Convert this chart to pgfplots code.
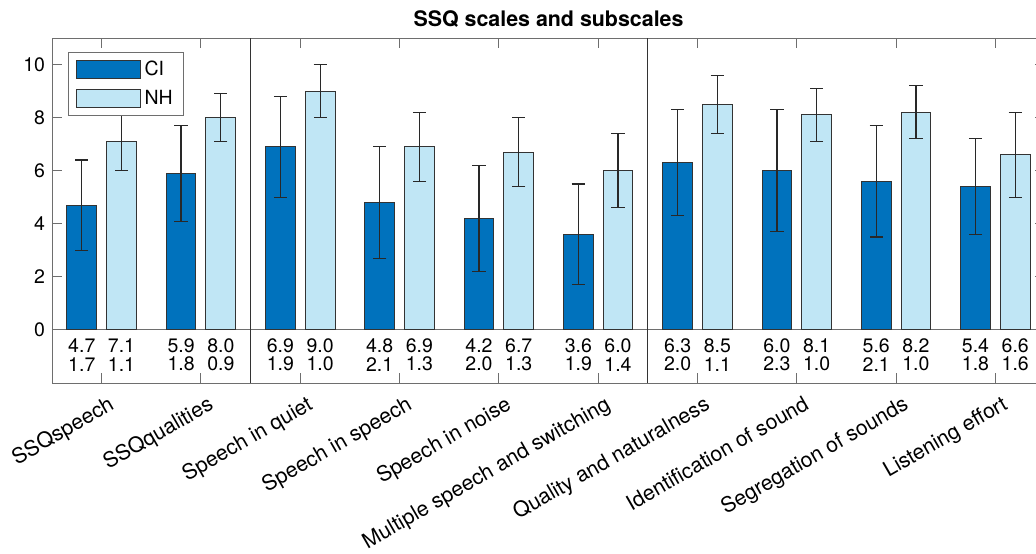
\documentclass[border=0pt]{standalone}
\usepackage{pgfplots}
\pgfplotsset{compat=1.18}
\usepackage{pgfplotstable}
\usepackage{fontspec}
\setmainfont{TeX Gyre Heros}
\definecolor{ciblue}{RGB}{0,114,189}
\definecolor{nhblue}{RGB}{192,230,245}
\definecolor{axgray}{RGB}{110,110,110}
\definecolor{errc}{RGB}{40,40,40}
\pgfplotstableread{
x ci cisd nh nhsd
0 4.7 1.7 7.1 1.1
1 5.9 1.8 8.0 0.9
2 6.9 1.9 9.0 1.0
3 4.8 2.1 6.9 1.3
4 4.2 2.0 6.7 1.3
5 3.6 1.9 6.0 1.4
6 6.3 2.0 8.5 1.1
7 6.0 2.3 8.1 1.0
8 5.6 2.1 8.2 1.0
9 5.4 1.8 6.6 1.6
}\ssq
\begin{document}
\begin{tikzpicture}[font=\fontsize{9.75}{11.5}\selectfont]
\begin{axis}[
  scale only axis, width=496.5pt, height=172.5pt,
  xmin=-0.5, xmax=9.5, ymin=-2, ymax=11,
  xtick={0,...,9},
  xticklabels={SSQspeech, SSQqualities, Speech in quiet, Speech in speech, Speech in noise, Multiple speech and switching, Quality and naturalness, Identification of sound, Segregation of sounds, Listening effort},
  ytick={0,2,...,10},
  tick align=inside, major tick length=5pt,
  axis line style={axgray, line width=0.5pt},
  tick style={axgray, line width=0.5pt},
  xticklabel style={rotate=30, anchor=north east, yshift=-3pt, xshift=3pt, font=\fontsize{10.6}{12}\selectfont},
  /pgf/number format/assume math mode=true,
  title={SSQ scales and subscales},
  title style={font=\fontsize{10.7}{12}\selectfont\bfseries, yshift=-4pt},
  legend style={at={(0,1)}, anchor=north west, xshift=8pt, yshift=-7pt, draw=axgray, line width=0.5pt, inner xsep=3.5pt, inner ysep=2pt, row sep=2pt, font=\fontsize{9.75}{11.5}\selectfont},
  legend cell align=left,
]
\addplot[axgray, line width=0.5pt, forget plot] coordinates {(-0.5,0) (9.5,0)};
\addplot[black!80, line width=0.5pt, forget plot] coordinates {(1.5,-2) (1.5,11)};
\addplot[black!80, line width=0.5pt, forget plot] coordinates {(5.5,-2) (5.5,11)};
\addplot[ybar, bar width=0.3, bar shift=0pt, fill=ciblue, draw=black!80, line width=0.5pt,
  legend image code/.code={\draw[fill=ciblue, draw=black!80, line width=0.5pt] (0pt,-4.5pt) rectangle (32pt,4.5pt);},
  error bars/.cd, y dir=both, y explicit,
  error bar style={errc, line width=0.6pt},
  error mark options={rotate=90, mark size=3.3pt, errc, line width=0.6pt}]
  table[x expr=\thisrow{x}-0.2, y=ci, y error=cisd] {\ssq};
\addlegendentry{CI}
\addplot[ybar, bar width=0.3, bar shift=0pt, fill=nhblue, draw=black!80, line width=0.5pt,
  legend image code/.code={\draw[fill=nhblue, draw=black!80, line width=0.5pt] (0pt,-4.5pt) rectangle (32pt,4.5pt);},
  error bars/.cd, y dir=both, y explicit,
  error bar style={errc, line width=0.6pt},
  error mark options={rotate=90, mark size=3.3pt, errc, line width=0.6pt}]
  table[x expr=\thisrow{x}+0.2, y=nh, y error=nhsd] {\ssq};
\addlegendentry{NH}
\addplot[draw=none, mark=none, forget plot, point meta=explicit,
  nodes near coords={\pgfmathprintnumber[fixed, fixed zerofill, precision=1, assume math mode=true]{\pgfplotspointmeta}},
  every node near coord/.style={anchor=center, inner sep=0pt}]
  table[x expr=\thisrow{x}-0.2, y expr=-0.58, meta=ci] {\ssq};
\addplot[draw=none, mark=none, forget plot, point meta=explicit,
  nodes near coords={\pgfmathprintnumber[fixed, fixed zerofill, precision=1, assume math mode=true]{\pgfplotspointmeta}},
  every node near coord/.style={anchor=center, inner sep=0pt}]
  table[x expr=\thisrow{x}-0.2, y expr=-1.29, meta=cisd] {\ssq};
\addplot[draw=none, mark=none, forget plot, point meta=explicit,
  nodes near coords={\pgfmathprintnumber[fixed, fixed zerofill, precision=1, assume math mode=true]{\pgfplotspointmeta}},
  every node near coord/.style={anchor=center, inner sep=0pt}]
  table[x expr=\thisrow{x}+0.2, y expr=-0.58, meta=nh] {\ssq};
\addplot[draw=none, mark=none, forget plot, point meta=explicit,
  nodes near coords={\pgfmathprintnumber[fixed, fixed zerofill, precision=1, assume math mode=true]{\pgfplotspointmeta}},
  every node near coord/.style={anchor=center, inner sep=0pt}]
  table[x expr=\thisrow{x}+0.2, y expr=-1.29, meta=nhsd] {\ssq};
\end{axis}
\pgfresetboundingbox
\path[use as bounding box] ([xshift=-26pt,yshift=-85pt]current axis.south west) rectangle ([xshift=492pt,yshift=19pt]current axis.north west);
\end{tikzpicture}
\end{document}
